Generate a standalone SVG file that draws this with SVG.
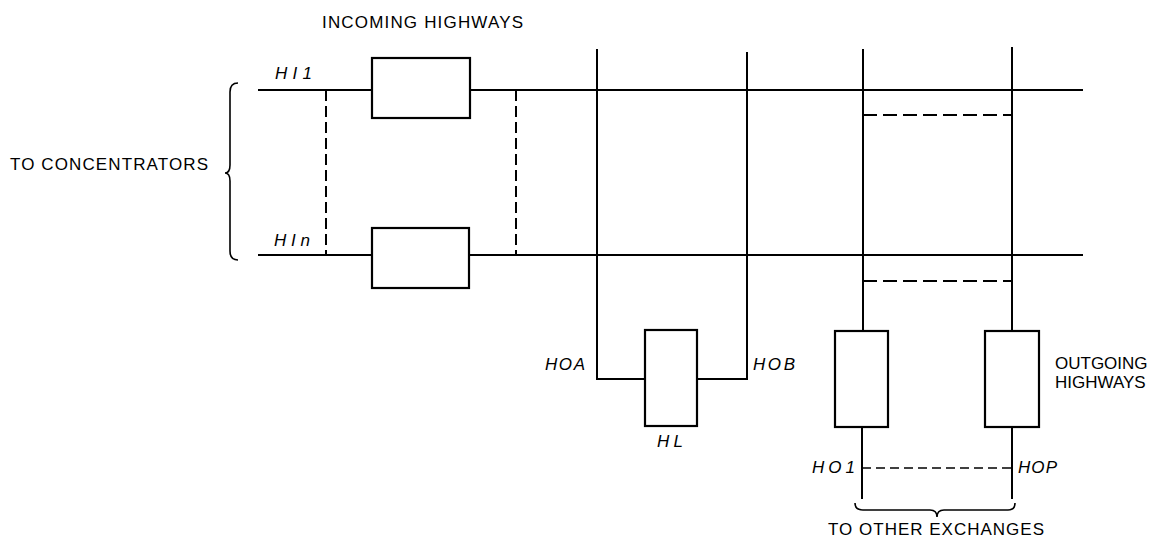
<svg xmlns="http://www.w3.org/2000/svg" width="1166" height="545" viewBox="0 0 1166 545">
<style>
.ln{stroke:#000;stroke-width:2;fill:none}
.dash{stroke:#000;stroke-width:2;fill:none;stroke-dasharray:11 5}
.dash2{stroke:#000;stroke-width:1.6;fill:none;stroke-dasharray:9 5}
.box{stroke:#000;stroke-width:2.2;fill:#fff}
.t{font-family:"Liberation Sans",Arial,sans-serif;font-size:17px;fill:#000}
.i{font-family:"Liberation Sans",Arial,sans-serif;font-style:italic;font-size:17px;fill:#000}
</style>
<rect width="1166" height="545" fill="#fff"/>
<g id="connectors">
<path class="ln" d="M258 90H372M470 90H1083"/>
<path class="ln" d="M258 255H372M469 255H1083"/>
<path class="dash" d="M326 90V255"/>
<path class="dash" d="M516 90V255"/>
<path class="ln" d="M597 49V379H645"/>
<path class="ln" d="M697 379H747V52"/>
<path class="ln" d="M863 49V331"/>
<path class="ln" d="M1012 47V331"/>
<path class="ln" d="M862 427V499"/>
<path class="ln" d="M1012 427V499"/>
<path class="dash" d="M863 115H1012" style="stroke-dasharray:14 6"/>
<path class="dash" d="M863 281H1012" style="stroke-dasharray:14 6"/>
<path class="dash2" d="M862 468H1012"/>
</g>
<g id="brace-left"><path class="ln" style="stroke-width:1.6" d="M238 83Q230 83 230 92V165Q230 173 225 173Q230 173 230 181V251Q230 260 238 260"/></g>
<g id="brace-bottom"><path class="ln" style="stroke-width:1.6" d="M855 503Q855 510 863 510H930Q937 510 937 517Q937 510 944 510H1008Q1015 510 1015 503"/></g>
<g id="HI1-box"><rect class="box" x="372" y="58" width="98" height="60"/></g>
<g id="HIn-box"><rect class="box" x="372" y="228" width="97" height="60"/></g>
<g id="HL"><rect class="box" x="645" y="330" width="52" height="96"/><text class="i" x="657" y="447" textLength="26">HL</text></g>
<g id="HO1-box"><rect class="box" x="835" y="331" width="53" height="96"/></g>
<g id="HOP-box"><rect class="box" x="985" y="331" width="54" height="96"/></g>
<g id="labels">
<text class="t" x="322" y="28" textLength="201">INCOMING HIGHWAYS</text>
<text class="t" x="10" y="170" textLength="198">TO CONCENTRATORS</text>
<text class="t" x="1055" y="369">OUTGOING</text>
<text class="t" x="1055" y="388">HIGHWAYS</text>
<text class="t" x="828" y="535" textLength="216">TO OTHER EXCHANGES</text>
<text class="i" x="275" y="79" textLength="37">HI1</text>
<text class="i" x="274" y="246" textLength="36">HIn</text>
<text class="i" x="545" y="370" textLength="40">HOA</text>
<text class="i" x="753" y="370" textLength="42">HOB</text>
<text class="i" x="812" y="473" textLength="43">HO1</text>
<text class="i" x="1018" y="473" textLength="39">HOP</text>
</g>
</svg>
